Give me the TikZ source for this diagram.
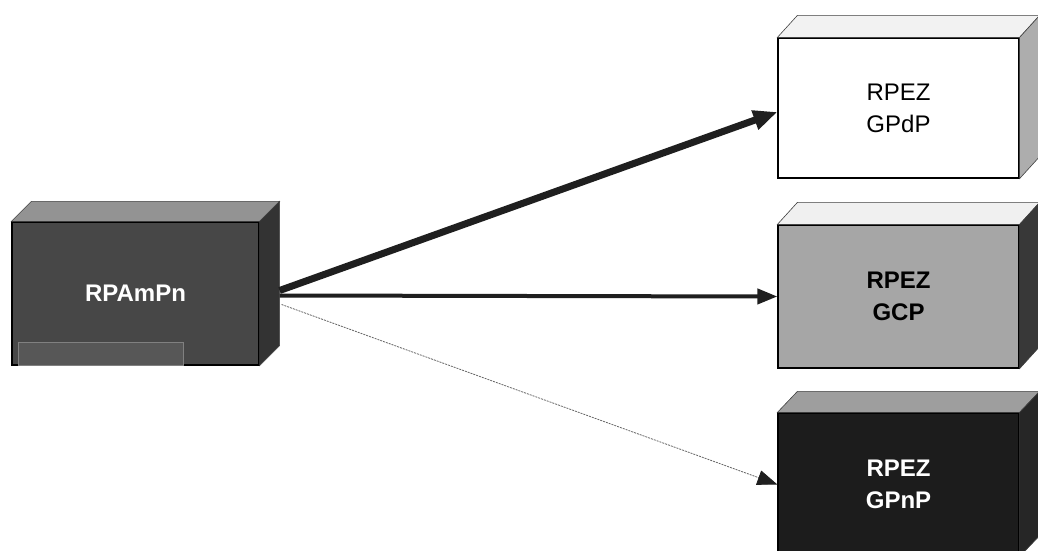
\documentclass[tikz,border=0pt]{standalone}
\usepackage{fontspec}
\setmainfont{Liberation Sans}
\usetikzlibrary{arrows.meta,calc,positioning}

\definecolor{darkfront}{HTML}{474747}
\definecolor{darktop}{HTML}{939393}
\definecolor{darkside}{HTML}{333333}
\definecolor{greyfront}{HTML}{A6A6A6}
\definecolor{blackfront}{HTML}{1C1C1C}

\tikzset{
  front/.style={draw=black, line width=1.2pt, minimum width=241pt, minimum height=143pt,
    inner sep=0pt, align=center, font=\fontsize{24}{32}\selectfont},
  face/.style={draw=black!75, line width=0.6pt},
  link/.style={-{Triangle[length=20pt,width=15pt,black!88]}},
}

\begin{document}
\begin{tikzpicture}[x=1pt, y=-1pt]
    \useasboundingbox[fill=white] (0,0) rectangle (1038,551);
    % ---- the source box
    \node[front, fill=darkfront, text=white, font=\fontsize{24}{32}\selectfont\bfseries,
      minimum width=247pt] (lbox) at (135.5,293.5) {RPAmPn};
    \filldraw[face, fill=darktop] (lbox.north west) -- ($(lbox.north west)+(20,-20)$)
      -- ($(lbox.north east)+(20,-20)$) -- (lbox.north east) -- cycle;
    \filldraw[face, fill=darkside] (lbox.north east) -- ($(lbox.north east)+(20,-20)$)
      -- ($(lbox.south east)+(20,-20)$) -- (lbox.south east) -- cycle;
    \draw[black!50, fill=black!66, line width=0.5pt] (18,342) rectangle (183,365);
    % ---- the three target boxes
    \node[front, fill=white, minimum height=140pt] (gpdp) at (898.5,108) {RPEZ\\GPdP};
    \filldraw[face, fill=black!5] (gpdp.north west) -- ($(gpdp.north west)+(20,-22)$)
      -- ($(gpdp.north east)+(20,-22)$) -- (gpdp.north east) -- cycle;
    \filldraw[face, fill=black!32] (gpdp.north east) -- ($(gpdp.north east)+(20,-22)$)
      -- ($(gpdp.south east)+(20,-22)$) -- (gpdp.south east) -- cycle;
    \node[front, fill=greyfront, font=\fontsize{24}{32}\selectfont\bfseries] (gcp)
      at (898.5,296.5) {RPEZ\\GCP};
    \filldraw[face, fill=black!6] (gcp.north west) -- ($(gcp.north west)+(20,-22)$)
      -- ($(gcp.north east)+(20,-22)$) -- (gcp.north east) -- cycle;
    \filldraw[face, fill=black!78] (gcp.north east) -- ($(gcp.north east)+(20,-22)$)
      -- ($(gcp.south east)+(20,-22)$) -- (gcp.south east) -- cycle;
    \node[front, fill=blackfront, text=white, font=\fontsize{24}{32}\selectfont\bfseries] (gpnp)
      at (898.5,484.5) {RPEZ\\GPnP};
    \filldraw[face, fill=black!38] (gpnp.north west) -- ($(gpnp.north west)+(20,-21)$)
      -- ($(gpnp.north east)+(20,-21)$) -- (gpnp.north east) -- cycle;
    \filldraw[face, fill=black!85] (gpnp.north east) -- ($(gpnp.north east)+(20,-21)$)
      -- ($(gpnp.south east)+(20,-21)$) -- (gpnp.south east) -- cycle;
    % ---- the links
    \coordinate (outa) at ($(lbox.east)+(20,-3)$);
    \coordinate (outb) at ($(lbox.east)+(20,2)$);
    \coordinate (outc) at ($(lbox.east)+(22,11)$);
    \draw[-{Triangle[length=24pt,width=19pt]}, line width=7pt, black!88]
      (outa) -- ($(gpdp.west)+(0,4)$);
    \draw[link, line width=4pt, black!88] (outb) -- (gcp.west);
    \draw[link, black!60, line width=0.8pt, dash pattern=on 2pt off 1pt] (outc) -- (gpnp.west);
  \end{tikzpicture}
\end{document}
